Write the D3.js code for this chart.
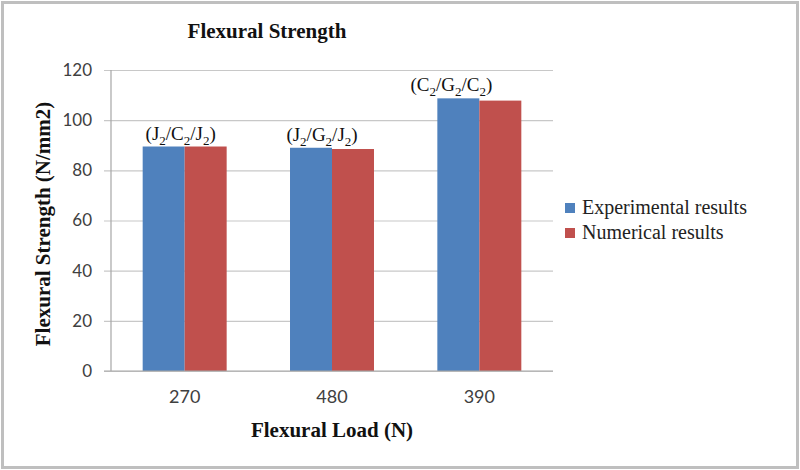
<!DOCTYPE html>
<html>
<head>
<meta charset="utf-8">
<script src="https://cdn.jsdelivr.net/npm/d3@7/dist/d3.min.js"></script>
<style>
  html, body { margin: 0; padding: 0; background: #fff; }
</style>
</head>
<body>
<div id="container"></div>
<script>
// chart data
const loads = ["270", "480", "390"];
const seriesNames = ["Experimental results", "Numerical results"];
const experimental = [89.5, 89, 108.7];
const numerical = [89.5, 88.5, 107.8];
const mixLabels = ["(J2/C2/J2)", "(J2/G2/J2)", "(C2/G2/C2)"];
const yTicks = [0, 20, 40, 60, 80, 100, 120];

const width = 800, height = 470;
const colors = ["#4f81bd", "#c0504d"];
const serif = "'Liberation Serif', 'Times New Roman', serif";
const sans = "Lato, 'Open Sans', sans-serif";

const margin = { top: 70, left: 111, right: 247, bottom: 99 };
const plotW = width - margin.left - margin.right;
const plotH = height - margin.top - margin.bottom;

const svg = d3.create("svg")
    .attr("width", width)
    .attr("height", height);

// outer chart frame
svg.append("rect")
    .attr("x", 2.5).attr("y", 2.5)
    .attr("width", width - 5).attr("height", height - 5)
    .attr("fill", "#fff")
    .attr("stroke", "#bfbfbf")
    .attr("stroke-width", 3);

const x = d3.scaleBand()
    .domain(loads)
    .range([0, plotW])
    .paddingInner(0.43)
    .paddingOuter(0.215);

const xSub = d3.scaleBand()
    .domain(seriesNames)
    .range([0, x.bandwidth()]);

const y = d3.scaleLinear()
    .domain([0, 120])
    .range([plotH, 0]);

const g = svg.append("g")
    .attr("transform", `translate(${margin.left},${margin.top})`);

// gridlines + y axis
const yAxis = d3.axisLeft(y)
    .tickValues(yTicks)
    .tickSize(-plotW)
    .tickSizeOuter(0)
    .tickPadding(19);

const yg = g.append("g").call(yAxis);
yg.select(".domain").remove();
yg.selectAll(".tick line")
    .attr("x1", -7)
    .attr("stroke", "#c8c8c8")
    .attr("stroke-width", 1.2);
yg.selectAll(".tick text")
    .attr("fill", "#404040")
    .style("font-family", sans)
    .style("font-size", "17px");

// vertical axis line
g.append("line")
    .attr("x1", 0).attr("x2", 0)
    .attr("y1", 0).attr("y2", plotH)
    .attr("stroke", "#a6a6a6")
    .attr("stroke-width", 1.2);

// bars
const rows = loads.map((l, i) => ({
    load: l,
    values: [experimental[i], numerical[i]],
    label: mixLabels[i]
}));

const groups = g.selectAll("g.group")
    .data(rows)
    .join("g")
    .attr("class", "group")
    .attr("transform", d => `translate(${x(d.load)},0)`);

groups.selectAll("rect")
    .data(d => d.values.map((v, j) => ({ name: seriesNames[j], value: v, j })))
    .join("rect")
    .attr("x", d => xSub(d.name))
    .attr("y", d => y(d.value))
    .attr("width", xSub.bandwidth())
    .attr("height", d => plotH - y(d.value))
    .attr("fill", d => colors[d.j]);

// x axis
const xAxis = d3.axisBottom(x).tickSize(0).tickPadding(19);
const xg = g.append("g")
    .attr("transform", `translate(0,${plotH})`)
    .call(xAxis);
xg.select(".domain")
    .attr("d", `M-7,0H${plotW}`)
    .attr("stroke", "#a6a6a6")
    .attr("stroke-width", 1.2);
xg.selectAll(".tick text")
    .attr("fill", "#404040")
    .style("font-family", sans)
    .style("font-size", "18px");

// mix labels above the bar groups (digits drawn as subscripts)
const labelShift = [-4, -10, -28];
groups.append("text")
    .attr("x", (d, i) => x.bandwidth() / 2 + labelShift[i])
    .attr("y", d => y(d3.max(d.values)) - 7)
    .attr("text-anchor", "middle")
    .style("font-family", serif)
    .style("font-size", "19px")
    .attr("fill", "#111")
    .each(function (d) {
        const t = d3.select(this);
        let lowered = false;
        d.label.split(/(\d)/).filter(s => s !== "").forEach(part => {
            if (/\d/.test(part)) {
                t.append("tspan").attr("dy", 5).style("font-size", "13px").text(part);
                lowered = true;
            } else {
                t.append("tspan").attr("dy", lowered ? -5 : 0).text(part);
                lowered = false;
            }
        });
    });

// titles
svg.append("text")
    .attr("x", 267).attr("y", 38)
    .attr("text-anchor", "middle")
    .style("font-family", serif)
    .style("font-weight", "bold")
    .style("font-size", "21px")
    .attr("fill", "#111")
    .text("Flexural Strength");

svg.append("text")
    .attr("x", margin.left + plotW / 2).attr("y", 437)
    .attr("text-anchor", "middle")
    .style("font-family", serif)
    .style("font-weight", "bold")
    .style("font-size", "21px")
    .attr("fill", "#111")
    .text("Flexural Load (N)");

svg.append("text")
    .attr("transform", `translate(50,224) rotate(-90)`)
    .attr("text-anchor", "middle")
    .style("font-family", serif)
    .style("font-weight", "bold")
    .style("font-size", "21px")
    .attr("fill", "#111")
    .text("Flexural Strength (N/mm2)");

// legend
const legend = svg.append("g")
    .attr("transform", "translate(565,203)");
const items = legend.selectAll("g")
    .data(seriesNames)
    .join("g")
    .attr("transform", (d, i) => `translate(0,${i * 25})`);
items.append("rect")
    .attr("width", 10).attr("height", 10)
    .attr("fill", (d, i) => colors[i]);
items.append("text")
    .attr("x", 17).attr("y", 11)
    .style("font-family", serif)
    .style("font-size", "20px")
    .attr("fill", "#222")
    .text(d => d);

document.getElementById("container").append(svg.node());
</script>
</body>
</html>
